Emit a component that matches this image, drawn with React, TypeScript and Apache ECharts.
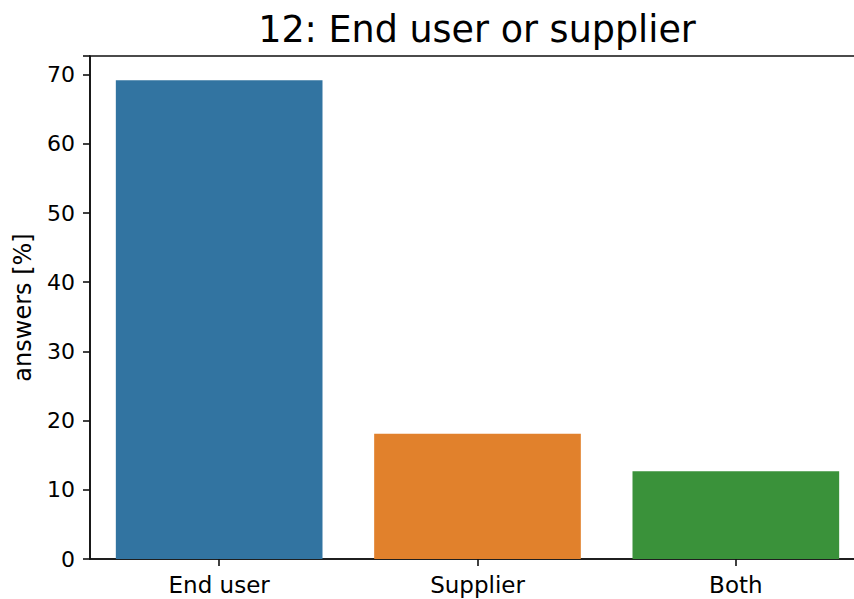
import React, { useEffect, useRef } from "react";
import * as echarts from "echarts";

const categories = ["End user", "Supplier", "Both"];
const values = [69.2, 18.1, 12.7];
const barColors = ["#3274a1", "#e1812c", "#3a923a"];
const yTicks = [0, 10, 20, 30, 40, 50, 60, 70];
const titleText = "12: End user or supplier";
const yLabel = "answers [%]";

const FONT = "DejaVu Sans";

export default function App() {
  const ref = useRef<HTMLDivElement>(null);
  useEffect(() => {
    if (!ref.current) return;
    const chart = echarts.init(ref.current, undefined, { renderer: "svg" });
    chart.setOption({
      animation: false,
      backgroundColor: "#ffffff",
      title: {
        text: titleText,
        left: 477,
        top: 11,
        padding: 0,
        textAlign: "center",
        textStyle: { fontFamily: FONT, fontSize: 36.5, fontWeight: "normal", color: "#000" },
      },
      grid: {
        left: 90,
        top: 56,
        bottom: 40,
        width: 775,
        show: true,
        borderColor: "#111",
        borderWidth: 1.6,
        backgroundColor: "transparent",
      },
      xAxis: {
        type: "category",
        data: categories,
        axisLine: { show: true, lineStyle: { color: "#111", width: 1.6 } },
        axisTick: { show: true, alignWithLabel: true, length: 7, lineStyle: { color: "#111", width: 1.6 } },
        axisLabel: { fontFamily: FONT, fontSize: 23, color: "#000", margin: 14 },
        splitLine: { show: false },
      },
      yAxis: {
        type: "value",
        min: 0,
        max: 72.7,
        interval: 10,
        name: yLabel,
        nameLocation: "middle",
        nameRotate: 90,
        nameGap: 55,
        nameTextStyle: { fontFamily: FONT, fontSize: 24, color: "#000" },
        axisLine: { show: true, lineStyle: { color: "#111", width: 1.6 } },
        axisTick: { show: true, length: 7, lineStyle: { color: "#111", width: 1.6 } },
        axisLabel: {
          fontFamily: FONT,
          fontSize: 22,
          color: "#000",
          margin: 15,
          formatter: (v: number) => (yTicks.includes(v) ? String(v) : ""),
        },
        splitLine: { show: false },
      },
      series: [
        {
          type: "bar",
          barCategoryGap: "20%",
          data: values.map((v, i) => ({ value: v, itemStyle: { color: barColors[i] } })),
        },
      ],
    });
    return () => chart.dispose();
  }, []);
  return (
    <div
      style={{
        position: "fixed",
        left: 0,
        top: 0,
        width: 854,
        height: 599,
        overflow: "hidden",
        background: "#fff",
      }}
    >
      <div ref={ref} style={{ width: 880, height: 599 }} />
    </div>
  );
}
